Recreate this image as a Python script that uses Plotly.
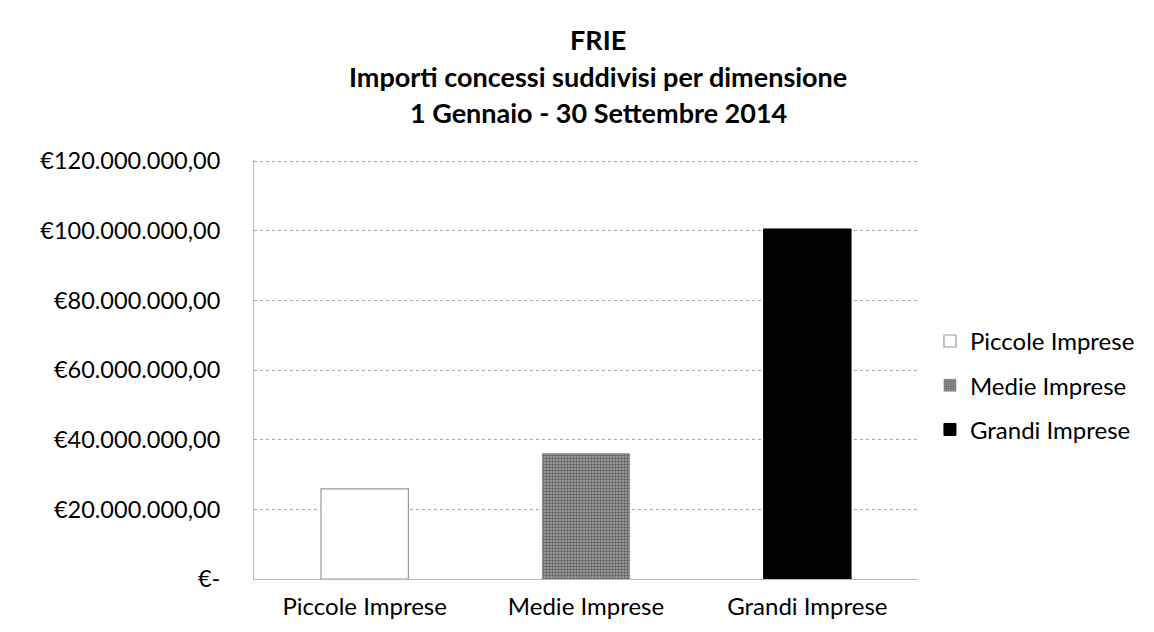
import plotly.graph_objects as go

# Data (euro)
categories = ["Piccole Imprese", "Medie Imprese", "Grandi Imprese"]
importi = [25_900_000, 36_000_000, 100_500_000]

tick_values = [0, 20_000_000, 40_000_000, 60_000_000, 80_000_000, 100_000_000, 120_000_000]
tick_labels = ["€-", "€20.000.000,00", "€40.000.000,00", "€60.000.000,00",
               "€80.000.000,00", "€100.000.000,00", "€120.000.000,00"]

title_lines = ["FRIE", "Importi concessi suddivisi per dimensione", "1 Gennaio - 30 Settembre 2014"]

FONT = "Lato, 'Open Sans', sans-serif"
GRID = "#a8a8a8"

bar_styles = [
    dict(color="white", line=dict(color="#9a9a9a", width=1.2)),
    dict(color="#7a7a7a", line=dict(color="#7a7a7a", width=0.5),
         pattern=dict(shape=".", fgcolor="#1e1e1e", bgcolor="#a6a6a6", size=3, solidity=0.55)),
    dict(color="black", line=dict(color="black", width=1)),
]

fig = go.Figure()
for i, (cat, val) in enumerate(zip(categories, importi)):
    fig.add_trace(go.Bar(
        x=[cat], y=[val], name=cat, width=0.395,
        marker=bar_styles[i], legendgroup=cat,
    ))

fig.update_layout(
    width=1154, height=632,
    margin=dict(l=246, r=244, t=152, b=61),
    plot_bgcolor="white", paper_bgcolor="white",
    barmode="overlay",
    font=dict(family=FONT, size=24, color="black"),
    legend=dict(
        x=1.018, xanchor="left", y=0.462, yanchor="middle",
        font=dict(size=24), tracegroupgap=10, traceorder="grouped",
        itemwidth=30,
    ),
    showlegend=True,
)

# title drawn as annotation, one per line, so that nothing is clipped at the top
title_y_px = [31, 68, 104]
for line, ypx in zip(title_lines, title_y_px):
    fig.add_annotation(
        text=f"<b>{line}</b>", xref="paper", yref="paper",
        x=(590 - 246) / 664, y=(571 - ypx) / 419,
        xanchor="center", yanchor="middle", showarrow=False,
        font=dict(family=FONT, size=27, color="black"),
    )

fig.update_yaxes(
    range=[0, 120_300_000], tickvals=tick_values, ticktext=tick_labels,
    tickfont=dict(size=23.5),
    showgrid=True, gridcolor=GRID, griddash="dot", gridwidth=1,
    showline=True, linecolor="#b8b8b8", linewidth=1,
    ticks="", zeroline=False, ticklabelstandoff=28,
)
fig.update_xaxes(
    categoryorder="array", categoryarray=categories,
    showline=True, linecolor="#b8b8b8", linewidth=1,
    ticks="", showgrid=False, tickfont=dict(size=24), ticklabelstandoff=6,
)

fig.write_html("out.html")
